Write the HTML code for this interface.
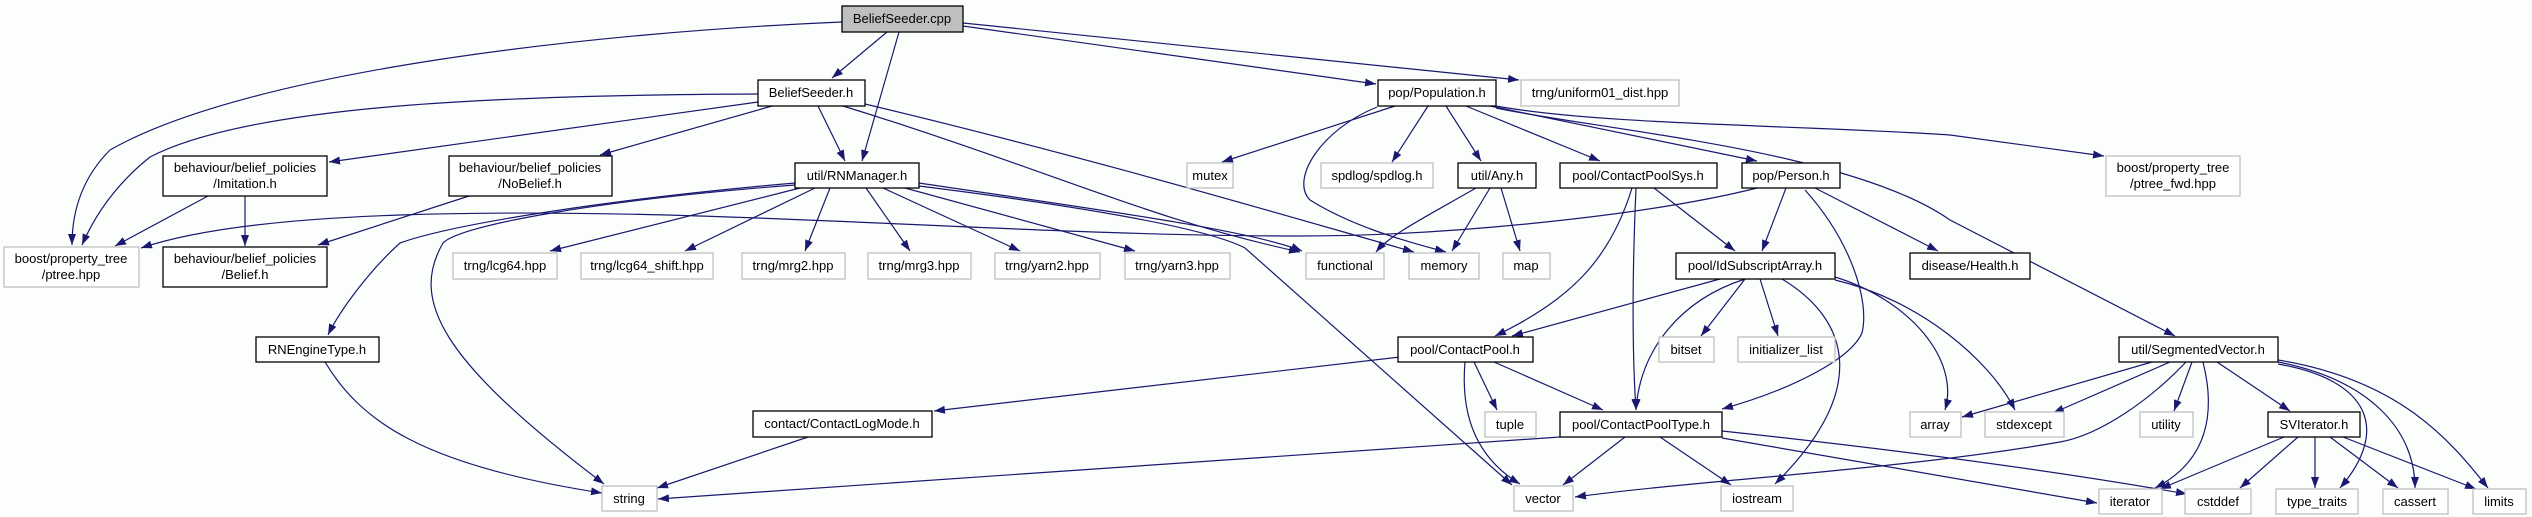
<!DOCTYPE html>
<html><head><meta charset="utf-8"><style>
html,body{margin:0;padding:0;background:#fcfefc;}
svg{display:block;}
text{font-family:"Liberation Sans",sans-serif;font-size:13px;fill:#000;text-anchor:middle;}
.n{fill:#fff;stroke:#000;stroke-width:1.3;}
.g{fill:#fff;stroke:#bfbfbf;stroke-width:1.3;}
.e{fill:none;stroke:#191970;stroke-width:1.2;}
</style></head><body>
<svg width="2532" height="517" viewBox="0 0 2532 517" xmlns="http://www.w3.org/2000/svg">
<defs><marker id="a" markerUnits="userSpaceOnUse" markerWidth="13" markerHeight="9" refX="11" refY="4" orient="auto"><path d="M0,0 L11,4 L0,8 z" fill="#191970"/></marker></defs>
<g class="e" marker-end="url(#a)">
<path d="M842,22 C600,32 250,70 110,150 C80,180 72,215 72,245"/>
<path d="M758,94 C500,95 250,105 150,157 C115,185 95,215 82,245"/>
<path d="M887,32 L832,78"/>
<path d="M899,32 L862,161"/>
<path d="M963,26 L1376,84"/>
<path d="M963,23 L1519,80"/>
<path d="M758,102 L329,162"/>
<path d="M772,106 L600,155"/>
<path d="M818,106 L845,161"/>
<path d="M843,106 C1050,170 1150,220 1300,252"/>
<path d="M865,104 C1100,160 1300,220 1414,252"/>
<path d="M795,183 C600,200 450,225 400,243 C370,270 340,310 328,335"/>
<path d="M795,185 C600,200 460,225 443,243 C410,300 440,360 604,484"/>
<path d="M800,188 L550,251"/>
<path d="M815,188 L685,251"/>
<path d="M830,188 L805,251"/>
<path d="M866,188 L910,251"/>
<path d="M883,188 L1020,251"/>
<path d="M905,188 L1135,251"/>
<path d="M919,183 C1100,210 1250,230 1302,251"/>
<path d="M919,186 C1150,215 1220,235 1245,248 L1512,485"/>
<path d="M1757,188 C1650,215 1450,236 1300,236 C1000,236 700,205 400,215 C250,220 180,235 141,248"/>
<path d="M1395,106 L1222,162"/>
<path d="M1428,106 L1392,162"/>
<path d="M1377,107 C1320,130 1290,180 1310,200 C1350,225 1400,240 1446,252"/>
<path d="M1446,106 L1481,161"/>
<path d="M1466,106 L1600,161"/>
<path d="M1490,106 L1757,161"/>
<path d="M1496,106 C1600,125 1800,125 1950,135 L2104,156"/>
<path d="M1496,108 C1600,130 1850,150 1950,220 L2175,336"/>
<path d="M1476,188 C1420,220 1390,235 1376,252"/>
<path d="M1490,188 L1452,251"/>
<path d="M1501,188 L1520,251"/>
<path d="M1632,188 C1610,260 1570,300 1495,336"/>
<path d="M1636,188 C1632,280 1632,350 1636,410"/>
<path d="M1654,188 L1735,251"/>
<path d="M1786,188 L1762,251"/>
<path d="M1815,188 L1938,251"/>
<path d="M1805,190 C1850,240 1870,300 1862,333 C1850,360 1790,390 1722,409"/>
<path d="M1720,279 L1512,336"/>
<path d="M1745,279 C1680,300 1640,350 1636,410"/>
<path d="M1745,279 L1701,336"/>
<path d="M1760,279 L1778,336"/>
<path d="M1782,279 C1850,320 1870,390 1775,484"/>
<path d="M1835,277 C1910,300 1960,360 1945,410"/>
<path d="M1835,280 C1920,300 1990,360 2015,410"/>
<path d="M1400,357 L934,411"/>
<path d="M1474,362 L1497,410"/>
<path d="M1494,362 L1603,410"/>
<path d="M1465,362 C1460,420 1480,460 1520,484"/>
<path d="M325,362 C360,420 420,465 602,493"/>
<path d="M808,437 L657,488"/>
<path d="M1560,437 L658,499"/>
<path d="M1625,437 L1563,485"/>
<path d="M1660,437 L1731,485"/>
<path d="M1722,438 L2097,503"/>
<path d="M1722,431 C1900,450 2050,470 2187,494"/>
<path d="M2152,362 L1962,417"/>
<path d="M2170,362 L2053,413"/>
<path d="M2186,362 C2150,400 2100,435 2060,442 C1900,470 1700,480 1575,497"/>
<path d="M2192,362 L2174,411"/>
<path d="M2203,362 C2215,410 2210,460 2155,488"/>
<path d="M2217,362 L2290,411"/>
<path d="M2278,364 C2370,380 2390,430 2340,488"/>
<path d="M2278,362 C2370,380 2415,430 2415,488"/>
<path d="M2278,360 C2400,380 2450,440 2488,488"/>
<path d="M2284,437 L2160,489"/>
<path d="M2298,437 L2240,488"/>
<path d="M2315,437 L2315,488"/>
<path d="M2330,437 L2398,488"/>
<path d="M2343,437 L2476,489"/>
<path d="M208,196 L115,246"/>
<path d="M245,196 L245,246"/>
<path d="M469,196 L318,245"/>
</g>
<rect x="842" y="6" width="121" height="26" fill="#bfbfbf" stroke="#000" stroke-width="1.3"/><text x="902" y="23">BeliefSeeder.cpp</text>
<rect class="n" x="758" y="80" width="107" height="26"/><text x="811" y="97">BeliefSeeder.h</text>
<rect class="n" x="1378" y="80" width="118" height="26"/><text x="1437" y="97">pop/Population.h</text>
<rect class="g" x="1521" y="80" width="158" height="26"/><text x="1600" y="97">trng/uniform01_dist.hpp</text>
<rect class="n" x="163" y="156" width="164" height="40"/><text x="245" y="172">behaviour/belief_policies</text><text x="245" y="188">/Imitation.h</text>
<rect class="n" x="449" y="156" width="163" height="40"/><text x="530" y="172">behaviour/belief_policies</text><text x="530" y="188">/NoBelief.h</text>
<rect class="n" x="795" y="163" width="124" height="25"/><text x="857" y="180">util/RNManager.h</text>
<rect class="g" x="1187" y="163" width="46" height="25"/><text x="1210" y="180">mutex</text>
<rect class="g" x="1321" y="163" width="112" height="25"/><text x="1377" y="180">spdlog/spdlog.h</text>
<rect class="n" x="1458" y="163" width="78" height="25"/><text x="1497" y="180">util/Any.h</text>
<rect class="n" x="1560" y="163" width="157" height="25"/><text x="1638" y="180">pool/ContactPoolSys.h</text>
<rect class="n" x="1742" y="163" width="98" height="25"/><text x="1791" y="180">pop/Person.h</text>
<rect class="g" x="2106" y="156" width="134" height="40"/><text x="2173" y="172">boost/property_tree</text><text x="2173" y="188">/ptree_fwd.hpp</text>
<rect class="g" x="4" y="247" width="135" height="40"/><text x="71" y="263">boost/property_tree</text><text x="71" y="279">/ptree.hpp</text>
<rect class="n" x="163" y="247" width="164" height="40"/><text x="245" y="263">behaviour/belief_policies</text><text x="245" y="279">/Belief.h</text>
<rect class="g" x="453" y="253" width="104" height="26"/><text x="505" y="270">trng/lcg64.hpp</text>
<rect class="g" x="581" y="253" width="132" height="26"/><text x="647" y="270">trng/lcg64_shift.hpp</text>
<rect class="g" x="742" y="253" width="103" height="26"/><text x="793" y="270">trng/mrg2.hpp</text>
<rect class="g" x="868" y="253" width="103" height="26"/><text x="919" y="270">trng/mrg3.hpp</text>
<rect class="g" x="995" y="253" width="105" height="26"/><text x="1047" y="270">trng/yarn2.hpp</text>
<rect class="g" x="1125" y="253" width="105" height="26"/><text x="1177" y="270">trng/yarn3.hpp</text>
<rect class="g" x="1306" y="253" width="78" height="26"/><text x="1345" y="270">functional</text>
<rect class="g" x="1409" y="253" width="70" height="26"/><text x="1444" y="270">memory</text>
<rect class="g" x="1503" y="253" width="47" height="26"/><text x="1526" y="270">map</text>
<rect class="n" x="1676" y="253" width="159" height="26"/><text x="1755" y="270">pool/IdSubscriptArray.h</text>
<rect class="n" x="1910" y="253" width="120" height="26"/><text x="1970" y="270">disease/Health.h</text>
<rect class="n" x="256" y="337" width="123" height="25"/><text x="317" y="354">RNEngineType.h</text>
<rect class="n" x="1398" y="337" width="135" height="25"/><text x="1465" y="354">pool/ContactPool.h</text>
<rect class="g" x="1659" y="337" width="55" height="25"/><text x="1686" y="354">bitset</text>
<rect class="g" x="1738" y="337" width="97" height="25"/><text x="1786" y="354">initializer_list</text>
<rect class="n" x="2119" y="337" width="159" height="25"/><text x="2198" y="354">util/SegmentedVector.h</text>
<rect class="n" x="753" y="411" width="179" height="26"/><text x="842" y="428">contact/ContactLogMode.h</text>
<rect class="g" x="1485" y="412" width="51" height="25"/><text x="1510" y="429">tuple</text>
<rect class="n" x="1560" y="412" width="162" height="25"/><text x="1641" y="429">pool/ContactPoolType.h</text>
<rect class="g" x="1910" y="412" width="51" height="25"/><text x="1935" y="429">array</text>
<rect class="g" x="1985" y="412" width="79" height="25"/><text x="2024" y="429">stdexcept</text>
<rect class="g" x="2140" y="412" width="53" height="25"/><text x="2166" y="429">utility</text>
<rect class="n" x="2268" y="412" width="92" height="25"/><text x="2314" y="429">SVIterator.h</text>
<rect class="g" x="602" y="486" width="55" height="25"/><text x="629" y="503">string</text>
<rect class="g" x="1514" y="486" width="59" height="25"/><text x="1543" y="503">vector</text>
<rect class="g" x="1721" y="486" width="72" height="25"/><text x="1757" y="503">iostream</text>
<rect class="g" x="2099" y="489" width="63" height="25"/><text x="2130" y="506">iterator</text>
<rect class="g" x="2185" y="489" width="66" height="25"/><text x="2218" y="506">cstddef</text>
<rect class="g" x="2276" y="489" width="82" height="25"/><text x="2317" y="506">type_traits</text>
<rect class="g" x="2383" y="489" width="65" height="25"/><text x="2415" y="506">cassert</text>
<rect class="g" x="2473" y="489" width="53" height="25"/><text x="2499" y="506">limits</text>
</svg>
</body></html>
